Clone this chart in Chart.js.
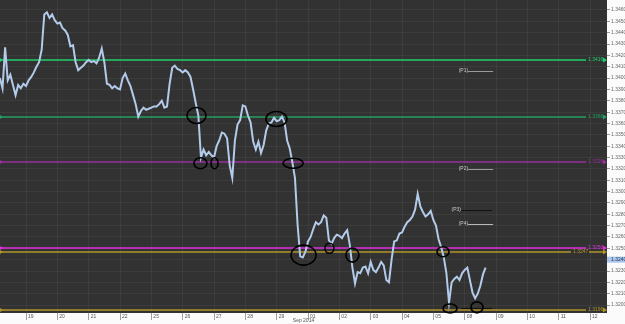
<!DOCTYPE html>
<html>
<head>
<meta charset="utf-8">
<script src="https://cdn.jsdelivr.net/npm/chart.js@4.4.1/dist/chart.umd.min.js"></script>
<style>
  html, body { margin: 0; padding: 0; background: #fbfbfb; }
  #wrap { width: 625px; height: 324px; position: relative; }
</style>
</head>
<body>
<div id="wrap"><canvas id="fx"></canvas></div>
<script>
// 2-hour closes, bar index starts at firstBar; 12 bars per trading day
const firstBar = -10;
const closes = [
  1.3400, 1.3391, 1.3427, 1.3398, 1.3403, 1.3394, 1.3385, 1.3394, 1.3391, 1.3395,
  1.3393, 1.3398, 1.3401, 1.3405, 1.3410, 1.3414, 1.3425, 1.3456, 1.3458, 1.3453,
  1.3456, 1.3451, 1.3448, 1.3449, 1.3444, 1.3442, 1.3438, 1.3428, 1.3429, 1.3414,
  1.3407, 1.3409, 1.3411, 1.3414, 1.3416, 1.3414, 1.3415, 1.3413, 1.3418, 1.3426,
  1.3414, 1.3395, 1.3394, 1.3391, 1.3393, 1.3391, 1.3390, 1.3400, 1.3404, 1.3398,
  1.3393, 1.3385, 1.3377, 1.3366, 1.3371, 1.3374, 1.3372, 1.3373, 1.3374, 1.3375,
  1.3375, 1.3377, 1.3380, 1.3374, 1.3375, 1.3395, 1.3409, 1.3411, 1.3408, 1.3407,
  1.3405, 1.3407, 1.3405, 1.3401, 1.3390, 1.3378, 1.3367, 1.3330, 1.3337, 1.3332,
  1.3335, 1.3332, 1.3330, 1.3340, 1.3345, 1.3352, 1.3351, 1.3347, 1.3323, 1.3312,
  1.3345, 1.3359, 1.3363, 1.3376, 1.3375, 1.3367, 1.3361, 1.3344, 1.3337, 1.3344,
  1.3334, 1.3341, 1.3354, 1.3360, 1.3361, 1.3365, 1.3362, 1.3363, 1.3366, 1.3361,
  1.3345, 1.3338, 1.3326, 1.3312, 1.3271, 1.3243, 1.3242, 1.3247, 1.3256, 1.3260,
  1.3267, 1.3273, 1.3271, 1.3273, 1.3279, 1.3277, 1.3257, 1.3254, 1.3259, 1.3262,
  1.3261, 1.3259, 1.3263, 1.3266, 1.3253, 1.3233, 1.3219, 1.3229, 1.3228, 1.3233,
  1.3234, 1.3228, 1.3238, 1.3231, 1.3229, 1.3233, 1.3238, 1.3235, 1.3222, 1.3220,
  1.3240, 1.3256, 1.3257, 1.3263, 1.3264, 1.3269, 1.3273, 1.3275, 1.3278, 1.3284,
  1.3298, 1.3287, 1.3282, 1.3278, 1.3280, 1.3283, 1.3275, 1.3270, 1.3258, 1.3251,
  1.3242, 1.3228, 1.3202, 1.3220, 1.3223, 1.3225, 1.3222, 1.3228, 1.3231, 1.3233,
  1.3222, 1.3211, 1.3206, 1.3210, 1.3217, 1.3227, 1.3233
];
const barsPerDay = 12;
const dayLabels = ['19', '20', '21', '22', '25', '26', '27', '28', '29',
                   '01', '02', '03', '04', '05', '08', '09', '10', '11', '12'];
const monthLabel = 'Sep 2014';
const lastQuote = 1.3240;

// horizontal levels
const levelPrices = [1.3416, 1.3366, 1.3326, 1.3250, 1.3247, 1.3196];

// circled touches (bar, price)
const touchBars   = [65.3, 66.8, 72.2, 95.9, 102.3, 106.3, 116.2, 125.0, 159.7, 162.4, 172.7];
const touchPrices = [1.3367, 1.3325, 1.3325, 1.3364, 1.3325, 1.3244, 1.3250, 1.3244, 1.3247, 1.3197, 1.3198];

// short note lines on the right
const noteLabels = ['(P1)', '(P2)', '(P3)', '(P4)', ''];
const notePrices = [1.3406, 1.3320, 1.3284, 1.3271, 1.3197];
const noteFrom   = [169.3, 169.3, 166.6, 169.3, 166.6];
const noteTo     = [178.9, 178.9, 178.5, 178.9, 178.5];

// styling
const levelColors = ['#1fd06e', '#23a060', '#9a2f9c', '#e02ee0', '#b0952a', '#b0952a'];
const levelTagShift = [0, 0, 0, 0, 15, 0];
const touchRadii = [[9.5, 8], [6.5, 5.5], [3.5, 5.5], [10.5, 7.5], [10, 5], [12.5, 10],
                    [4.5, 5], [6.5, 7], [6, 5], [7, 4.5], [6, 5.5]];
const noteColors = ['#9a9a9a', '#9a9a9a', '#111111', '#b8b8b8', '#111111'];
const tinyFont = '5px "Liberation Sans", Arial, sans-serif';

const overlay = {
  id: 'overlay',
  beforeDraw(chart) {
    const { ctx, chartArea: a, width, height } = chart;
    ctx.save();
    ctx.fillStyle = '#fbfbfb';
    ctx.fillRect(0, 0, width, height);
    ctx.fillStyle = '#323232';
    ctx.fillRect(a.left, a.top, a.right - a.left, a.bottom - a.top);
    ctx.restore();
  },
  beforeDatasetsDraw(chart) {
    const { ctx, chartArea: a, scales: { y } } = chart;
    ctx.save();
    ctx.font = tinyFont;
    ctx.textBaseline = 'middle';
    levelPrices.forEach((p, k) => {
      const py = Math.round(y.getPixelForValue(p));
      const col = levelColors[k];
      const tagX = a.right - 19 - levelTagShift[k];
      ctx.strokeStyle = col;
      ctx.fillStyle = col;
      ctx.lineWidth = 1.6;
      ctx.beginPath();
      ctx.moveTo(a.left, py);
      ctx.lineTo(tagX - 2, py);
      if (levelTagShift[k]) {
        ctx.moveTo(tagX + 16, py);
        ctx.lineTo(a.right - 3, py);
      }
      ctx.stroke();
      ctx.fillText(p.toFixed(4), tagX, py);
      ctx.beginPath();
      ctx.moveTo(a.right - 4, py - 2.5);
      ctx.lineTo(a.right, py);
      ctx.lineTo(a.right - 4, py + 2.5);
      ctx.fill();
      ctx.beginPath();
      ctx.moveTo(a.left, py - 2);
      ctx.lineTo(a.left + 3, py);
      ctx.lineTo(a.left, py + 2);
      ctx.fill();
    });
    ctx.restore();
  },
  afterDatasetsDraw(chart) {
    const { ctx, scales: { x, y } } = chart;
    ctx.save();
    ctx.font = tinyFont;
    ctx.textBaseline = 'middle';
    notePrices.forEach((p, k) => {
      const py = Math.round(y.getPixelForValue(p)) + 0.5;
      const x0 = x.getPixelForValue(noteFrom[k]);
      const x1 = x.getPixelForValue(noteTo[k]);
      ctx.strokeStyle = noteColors[k];
      ctx.lineWidth = 1;
      ctx.beginPath();
      ctx.moveTo(x0, py);
      ctx.lineTo(x1, py);
      ctx.stroke();
      if (noteLabels[k]) {
        ctx.fillStyle = '#c8c8c8';
        ctx.textAlign = 'right';
        ctx.fillText(noteLabels[k], x0, py - 1);
      }
    });
    ctx.strokeStyle = '#000';
    ctx.lineWidth = 1.6;
    touchBars.forEach((b, k) => {
      const cx = x.getPixelForValue(b);
      const cy = y.getPixelForValue(touchPrices[k]);
      const [rx, ry] = touchRadii[k];
      ctx.beginPath();
      ctx.ellipse(cx, cy, rx, ry, 0, 0, Math.PI * 2);
      ctx.stroke();
    });
    ctx.restore();
  },
  afterDraw(chart) {
    const { ctx, chartArea: a, width, scales: { y } } = chart;
    const py = y.getPixelForValue(lastQuote);
    ctx.save();
    ctx.fillStyle = '#a9c6ec';
    ctx.fillRect(a.right, py - 3, width - a.right, 6);
    ctx.fillStyle = '#2a3a55';
    ctx.font = tinyFont;
    ctx.textBaseline = 'middle';
    ctx.fillText(lastQuote.toFixed(4), a.right + 4, py);
    ctx.restore();
  }
};

const points = closes.map((c, k) => ({ x: firstBar + k, y: c }));

new Chart(document.getElementById('fx'), {
  type: 'line',
  data: {
    datasets: [{
      data: points,
      borderColor: '#b3cbea',
      borderWidth: 2,
      pointRadius: 0,
      tension: 0
    }]
  },
  options: {
    responsive: true,
    maintainAspectRatio: false,
    animation: false,
    devicePixelRatio: 1,
    layout: { padding: 0 },
    plugins: { legend: { display: false }, tooltip: { enabled: false } },
    scales: {
      x: {
        type: 'linear',
        min: -9.96,
        max: 222.5,
        afterFit: (s) => { s.height = 11; s.paddingLeft = 0; s.paddingRight = 0; },
        afterBuildTicks: (s) => {
          s.ticks = dayLabels.map((_, k) => ({ value: k * barsPerDay }));
        },
        grid: { color: 'rgba(255,255,255,0.05)', tickColor: '#a0a0a0', tickLength: 7 },
        border: { display: false },
        ticks: {
          align: 'start',
          labelOffset: 2,
          padding: -6,
          maxRotation: 0,
          autoSkip: false,
          color: '#555',
          font: { size: 5, family: '"Liberation Sans", Arial, sans-serif' },
          callback: (v) => dayLabels[Math.round(v / barsPerDay)] ?? ''
        },
        title: {
          display: true,
          text: monthLabel,
          color: '#555',
          padding: 0,
          font: { size: 5, family: '"Liberation Sans", Arial, sans-serif' }
        }
      },
      y: {
        position: 'right',
        min: 1.3193,
        max: 1.34688,
        afterFit: (s) => { s.width = 18; s.paddingTop = 0; s.paddingBottom = 0; },
        grid: { color: 'rgba(255,255,255,0.05)', tickColor: '#999', tickLength: 3 },
        border: { display: false },
        ticks: {
          stepSize: 0.001,
          includeBounds: false,
          padding: 1,
          color: '#666',
          font: { size: 5, family: '"Liberation Sans", Arial, sans-serif' },
          callback: (v) => v.toFixed(4)
        }
      }
    }
  },
  plugins: [overlay]
});
</script>
</body>
</html>
